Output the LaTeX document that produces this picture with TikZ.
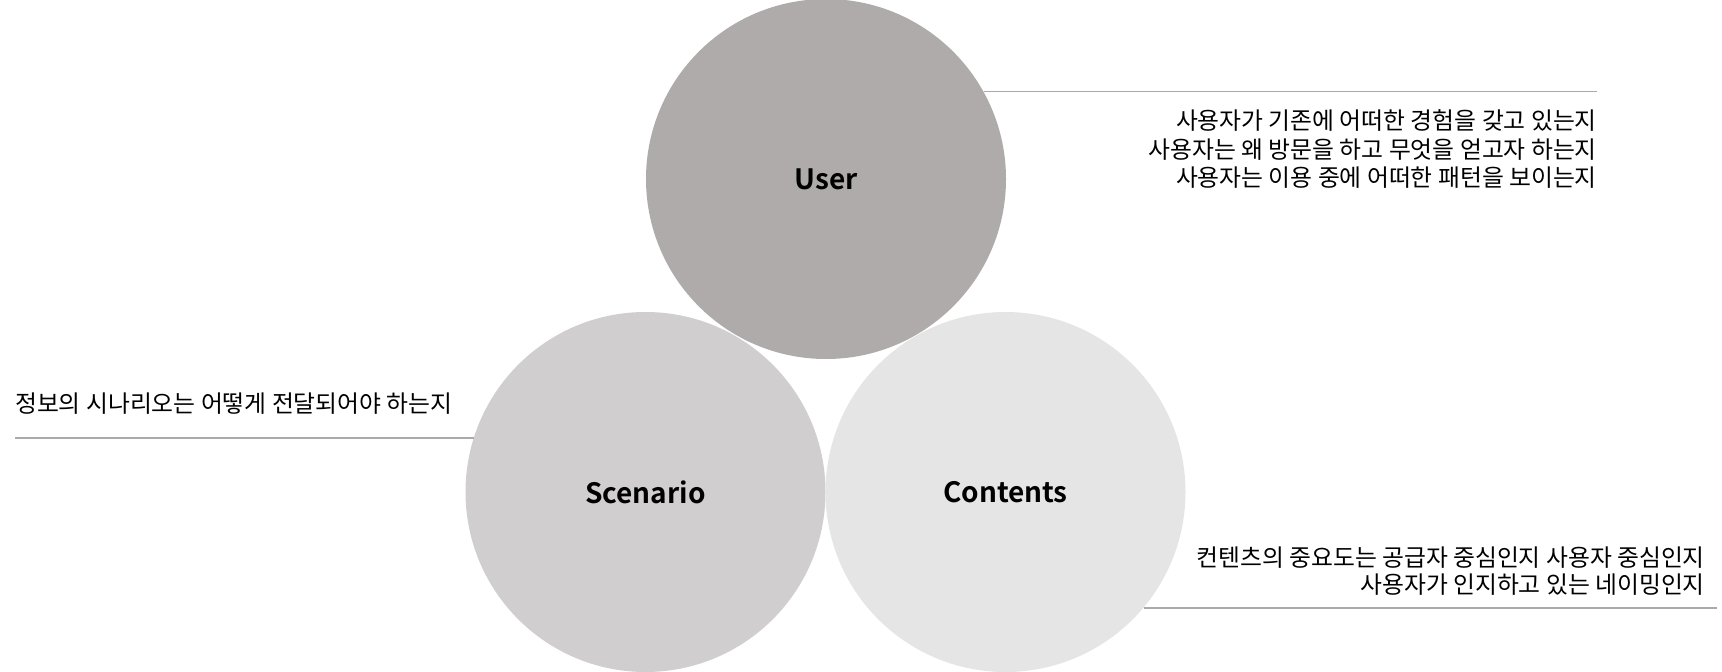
\documentclass[tikz,border=0pt]{standalone}
\usepackage{fontspec}
\newfontfamily\kr{Noto Sans CJK KR}
\newfontfamily\krb{Noto Sans CJK KR Bold}
\definecolor{cuser}{HTML}{AEABAA}
\definecolor{cscen}{HTML}{D0CECF}
\definecolor{ccont}{HTML}{E5E5E5}
\definecolor{cline}{HTML}{AAAAAA}
\tikzset{
  bubble/.style={circle, minimum size=360pt, inner sep=0pt, draw=none, font={\krb\fontsize{28}{32}\selectfont}},
  note/.style={inner sep=0pt, font={\kr\fontsize{23.8}{28.5}\selectfont}},
  leader/.style={draw=cline, line width=1.6pt}
}
\begin{document}
\begin{tikzpicture}[x=1pt,y=-1pt]
\useasboundingbox (0,0) rectangle (1722,672);
\node[bubble, fill=cuser] (user) at (826,179) {User};
\node[bubble, fill=cscen] (scen) at (645.5,492) {Scenario};
\node[bubble, fill=ccont] (cont) at (1005.5,492) {Contents};
% user note
\coordinate (uend) at (1597,90);
\draw[leader] (user.29.6) -- (user.29.6 -| uend);
\node[note, anchor=east, align=right] (unote) at (1597,149.5) {사용자가 기존에 어떠한 경험을 갖고 있는지\\사용자는 왜 방문을 하고 무엇을 얻고자 하는지\\사용자는 이용 중에 어떠한 패턴을 보이는지};
% scenario note
\coordinate (send) at (15,438);
\draw[leader] (send) -- (send -| scen.162.5);
\node[note, anchor=west] (snote) at (15,404) {정보의 시나리오는 어떻게 전달되어야 하는지};
% contents note
\coordinate (cend) at (1717,608);
\draw[leader] (cont.-40.1) -- (cont.-40.1 -| cend);
\node[note, anchor=east, align=right, font={\kr\fontsize{23.8}{27}\selectfont}] (cnote) at (1705,571) {컨텐츠의 중요도는 공급자 중심인지 사용자 중심인지\\사용자가 인지하고 있는 네이밍인지};
\end{tikzpicture}
\end{document}
